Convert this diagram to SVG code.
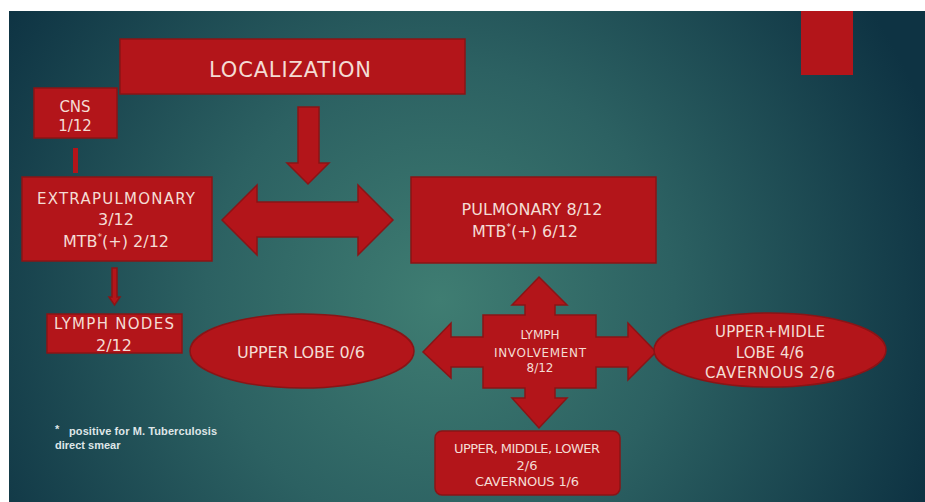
<svg xmlns="http://www.w3.org/2000/svg" width="925" height="502" viewBox="0 0 925 502">
<defs>
<radialGradient id="bg" cx="440" cy="300" r="520" gradientUnits="userSpaceOnUse">
<stop offset="0" stop-color="#3f7d72"/>
<stop offset="0.45" stop-color="#2c6162"/>
<stop offset="1" stop-color="#0e3343"/>
</radialGradient>
<style>
.r{fill:#b3151a;stroke:#8a1416;stroke-width:1.5}
.t{font-family:"DejaVu Sans","Liberation Sans",sans-serif;fill:#f4dcd4;text-anchor:middle}
.f{font-family:"Liberation Sans",Arial,sans-serif;fill:#dfe6e8;font-weight:bold;font-size:11px}
</style>
</defs>
<rect width="925" height="502" fill="#ffffff"/>
<rect x="9" y="11" width="916" height="491" fill="url(#bg)"/>
<rect x="801" y="11" width="52" height="64" fill="#b3151a"/>

<g id="connectors">
<polygon class="r" points="298,107 319,107 319,163 329,163 308,184 287,163 298,163"/>
<rect x="73" y="148" width="5" height="25" fill="#b3151a"/>
<polygon class="r" points="222,220 257,185 257,202 358,202 358,185 393,220 358,255 358,237 257,237 257,255"/>
<polygon class="r" points="112,268 117,268 117,297 120,297 114.5,305 109,297 112,297"/>
</g>

<g id="localization">
<rect class="r" x="120" y="39" width="345" height="55"/>
<text class="t" x="290" y="77" font-size="21" textLength="162">LOCALIZATION</text>
</g>

<g id="cns">
<rect class="r" x="34" y="88" width="83" height="50"/>
<text class="t" x="75" y="112" font-size="15">CNS</text>
<text class="t" x="75" y="131" font-size="15">1/12</text>
</g>

<g id="extrapulmonary">
<rect class="r" x="22" y="177" width="190" height="84"/>
<text class="t" x="116" y="204" font-size="15" textLength="158">EXTRAPULMONARY</text>
<text class="t" x="116" y="225" font-size="16">3/12</text>
<text class="t" x="116" y="247" font-size="16">MTB<tspan font-size="9" dy="-7">*</tspan><tspan dy="7">(+) 2/12</tspan></text>
</g>

<g id="pulmonary">
<rect class="r" x="411" y="177" width="245" height="86"/>
<text class="t" x="532" y="215" font-size="16" textLength="141">PULMONARY 8/12</text>
<text class="t" x="525" y="237" font-size="16">MTB<tspan font-size="9" dy="-7">*</tspan><tspan dy="7">(+) 6/12</tspan></text>
</g>

<g id="lymph-nodes">
<rect class="r" x="47" y="314" width="135" height="39"/>
<text class="t" x="114" y="329" font-size="15" textLength="120">LYMPH NODES</text>
<text class="t" x="114" y="351" font-size="16">2/12</text>
</g>

<g id="upper-lobe">
<ellipse class="r" cx="302" cy="351" rx="112" ry="37"/>
<text class="t" x="301" y="358" font-size="16" textLength="128">UPPER LOBE 0/6</text>
</g>

<g id="lymph-involvement">
<polygon class="r" points="539,277 567,305 555,305 555,315 596,315 596,337 628,337 628,323 656,352 628,380 628,367 596,367 596,388 555,388 555,398 567,398 539,428 512,398 525,398 525,388 483,388 483,367 451,367 451,378 423,352 451,323 451,337 483,337 483,315 525,315 525,305 512,305"/>
<text class="t" x="540" y="339" font-size="12">LYMPH</text>
<text class="t" x="540" y="357" font-size="12" textLength="92">INVOLVEMENT</text>
<text class="t" x="540" y="372" font-size="12">8/12</text>
</g>

<g id="upper-midle">
<ellipse class="r" cx="770" cy="350" rx="116" ry="37"/>
<text class="t" x="770" y="337" font-size="15" textLength="110">UPPER+MIDLE</text>
<text class="t" x="770" y="358" font-size="15">LOBE 4/6</text>
<text class="t" x="770" y="378" font-size="15" textLength="130">CAVERNOUS 2/6</text>
</g>

<g id="upper-middle-lower">
<rect class="r" x="435" y="431" width="185" height="64" rx="7"/>
<text class="t" x="527" y="453" font-size="13" textLength="146">UPPER, MIDDLE, LOWER</text>
<text class="t" x="527" y="470" font-size="13">2/6</text>
<text class="t" x="527" y="486" font-size="13" textLength="104">CAVERNOUS 1/6</text>
</g>

<g id="footnote">
<text class="f" x="55" y="433">*</text>
<text class="f" x="69" y="435" textLength="148">positive for M. Tuberculosis</text>
<text class="f" x="55" y="449">direct smear</text>
</g>
</svg>
